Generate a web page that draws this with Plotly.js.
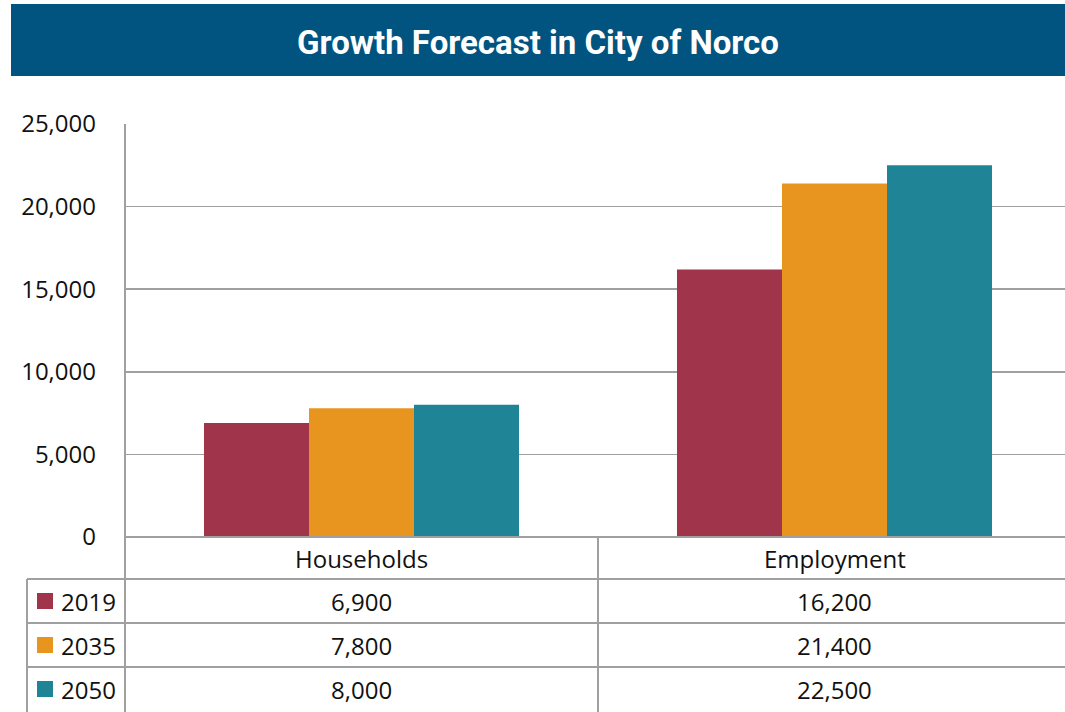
<!DOCTYPE html>
<html><head><meta charset="utf-8">
<script src="https://cdn.plot.ly/plotly-3.0.1.min.js"></script>
<style>html,body{margin:0;padding:0;background:#fff;}#chart{width:1065px;height:712px;}</style>
</head><body><div id="chart"></div>
<script>
const categories = ["Households", "Employment"];
const years = ["2019", "2035", "2050"];
const values2019 = [6900, 16200];
const values2035 = [7800, 21400];
const values2050 = [8000, 22500];
const yTicks = [0, 5000, 10000, 15000, 20000, 25000];
const yTickLabels = ["0", "5,000", "10,000", "15,000", "20,000", "25,000"];
const colors = ["#a0344b", "#e89520", "#1f8496"];
const series = [values2019, values2035, values2050];

const W = 1065, H = 712, L = 125, R = 1065, T = 124, B = 537;
const px = x => (x - L) / (R - L);
const py = y => (B - y) / (B - T);
const fmt = v => v.toLocaleString('en-US');
const gridCol = "#a0a0a0";
const FONT = "Open Sans, Noto Sans, sans-serif";

const traces = series.map((vals, i) => ({
  type: 'bar', x: categories, y: vals, name: years[i],
  marker: {color: colors[i]}, hoverinfo: 'x+y+name'
}));

const shapes = [];
const line = (x0, y0, x1, y1) => shapes.push({type:'line', xref:'paper', yref:'paper',
  x0:px(x0), y0:py(y0), x1:px(x1), y1:py(y1), line:{color:gridCol, width:2}});
// banner
shapes.push({type:'rect', xref:'paper', yref:'paper', x0:px(11), x1:px(1065), y0:py(4), y1:py(76),
  fillcolor:'#01547f', line:{width:0}, layer:'below'});
// axis & table lines
line(125, 124, 125, 712);
line(598, 537, 598, 712);
line(27, 579, 27, 712);
line(27, 579, 1065, 579);
line(27, 623, 1065, 623);
line(27, 667, 1065, 667);
line(125, 537, 1065, 537);

const annotations = [];
categories.forEach((c, j) => {
  annotations.push({xref:'x', yref:'paper', x:c, y:py(558), text:c, showarrow:false,
    font:{family:FONT, size:24, color:'#111'}, xanchor:'center', yanchor:'middle'});
});
const rowY = [601, 645, 689];
years.forEach((yr, i) => {
  shapes.push({type:'rect', xref:'paper', yref:'paper', x0:px(37), x1:px(53), y0:py(rowY[i]-8), y1:py(rowY[i]+8),
    fillcolor:colors[i], line:{width:0}});
  annotations.push({xref:'paper', yref:'paper', x:px(59), y:py(rowY[i]), text:yr, showarrow:false,
    font:{family:FONT, size:24, color:'#111'}, xanchor:'left', yanchor:'middle'});
  categories.forEach((c, j) => {
    annotations.push({xref:'x', yref:'paper', x:c, y:py(rowY[i]), text:fmt(series[i][j]), showarrow:false,
      font:{family:FONT, size:24, color:'#111'}, xanchor:'center', yanchor:'middle'});
  });
});

const layout = {
  width: W, height: H,
  margin: {l: L, r: W - R, t: T, b: H - B, pad: 0},
  paper_bgcolor: '#fff', plot_bgcolor: '#fff',
  showlegend: false,
  barmode: 'group', bargap: 0.334, bargroupgap: 0,
  title: {text: '<b>Growth Forecast in City of Norco</b>', x: (11 + 1065) / 2 / W, xanchor: 'center',
    y: 1 - 42 / H, yanchor: 'middle', font: {family: 'Roboto, sans-serif', size: 33, color: '#fff'}},
  xaxis: {type: 'category', range: [-0.5, 1.5 - 6/473], showticklabels: false, showgrid: false,
    zeroline: false, showline: false, ticks: '', fixedrange: true},
  yaxis: {range: [0, 25000], tickvals: yTicks, ticktext: yTickLabels, showgrid: true, gridcolor: gridCol,
    gridwidth: 1.5, zeroline: false, showline: false, ticks: '', ticklabelstandoff: 28,
    tickfont: {family: FONT, size: 24, color: '#111'}, fixedrange: true},
  shapes, annotations
};
Plotly.newPlot('chart', traces, layout, {staticPlot: true});
</script></body></html>
